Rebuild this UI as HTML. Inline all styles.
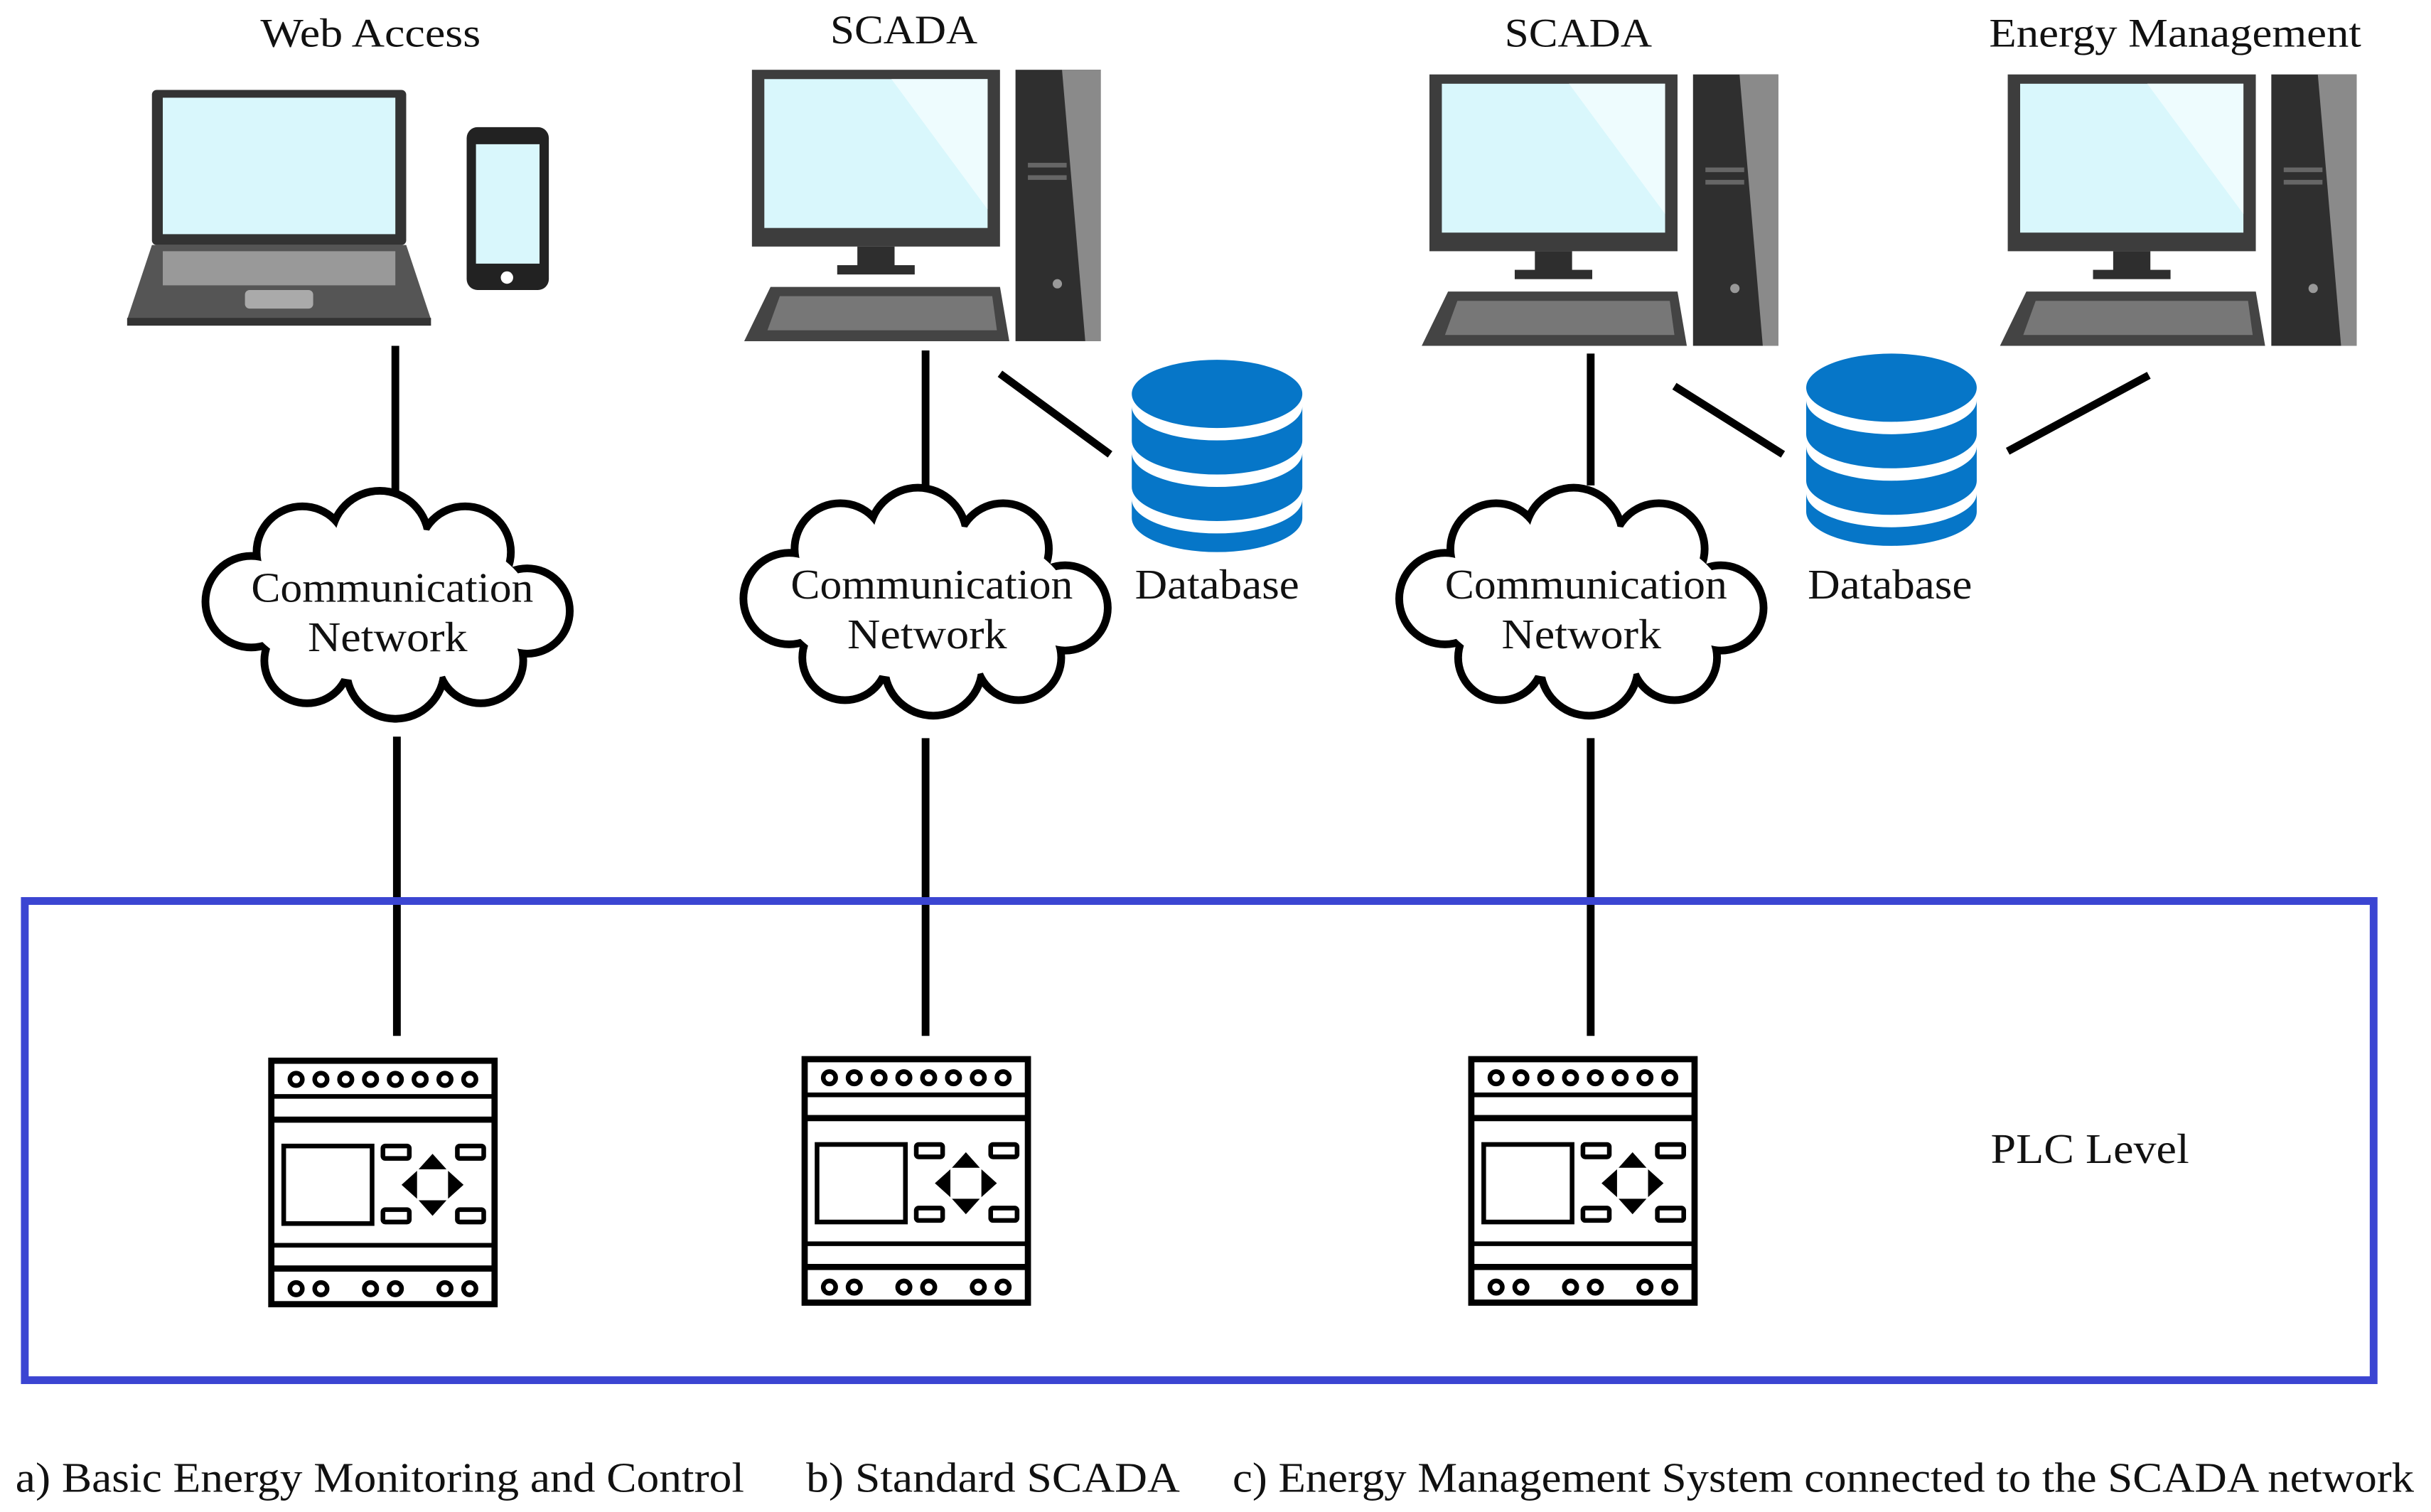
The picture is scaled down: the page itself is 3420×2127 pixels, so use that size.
<!DOCTYPE html>
<html><head><meta charset="utf-8"><style>
html,body{margin:0;padding:0;background:#fff}
svg{display:block}
text{font-family:"Liberation Serif","Times New Roman",serif;fill:#111}
</style></head><body>
<svg width="3420" height="2127" viewBox="0 0 1568 975" preserveAspectRatio="none" xmlns="http://www.w3.org/2000/svg">
<defs>
<g id="plc">
 <rect x="2" y="2" width="144" height="157" fill="#fff" stroke="#000" stroke-width="4"/>
 <line x1="2" y1="25" x2="146" y2="25" stroke="#000" stroke-width="3"/>
 <line x1="2" y1="40" x2="146" y2="40" stroke="#000" stroke-width="4"/>
 <line x1="2" y1="121" x2="146" y2="121" stroke="#000" stroke-width="3"/>
 <line x1="2" y1="136" x2="146" y2="136" stroke="#000" stroke-width="4"/>
 <g fill="#fff" stroke="#000" stroke-width="3">
  <circle cx="18" cy="14" r="4"/><circle cx="34" cy="14" r="4"/><circle cx="50" cy="14" r="4"/><circle cx="66" cy="14" r="4"/>
  <circle cx="82" cy="14" r="4"/><circle cx="98" cy="14" r="4"/><circle cx="114" cy="14" r="4"/><circle cx="130" cy="14" r="4"/>
  <circle cx="18" cy="149" r="4"/><circle cx="34" cy="149" r="4"/><circle cx="66" cy="149" r="4"/><circle cx="82" cy="149" r="4"/>
  <circle cx="114" cy="149" r="4"/><circle cx="130" cy="149" r="4"/>
  <rect x="10" y="57" width="57" height="50"/>
  <rect x="74" y="57" width="17" height="8" rx="1.5"/><rect x="122" y="57" width="17" height="8" rx="1.5"/>
  <rect x="74" y="98" width="17" height="8" rx="1.5"/><rect x="122" y="98" width="17" height="8" rx="1.5"/>
 </g>
 <g fill="#000">
  <polygon points="106,62 115,72 97,72"/><polygon points="106,102 115,92 97,92"/>
  <polygon points="86,82 96,73 96,91"/><polygon points="126,82 116,73 116,91"/>
 </g>
</g>
<g id="cloud">
 <g fill="#000">
  <circle cx="-88" cy="-2" r="32"/><circle cx="-55" cy="-34" r="32"/><circle cx="-5" cy="-42" r="34"/><circle cx="50" cy="-34" r="32"/>
  <circle cx="90" cy="4" r="30"/><circle cx="60" cy="36" r="30"/><circle cx="5" cy="42" r="34"/><circle cx="-52" cy="36" r="30"/>
  <ellipse cx="0" cy="0" rx="90" ry="50"/>
 </g>
 <g fill="#fff">
  <circle cx="-88" cy="-2" r="27"/><circle cx="-55" cy="-34" r="27"/><circle cx="-5" cy="-42" r="29"/><circle cx="50" cy="-34" r="27"/>
  <circle cx="90" cy="4" r="25"/><circle cx="60" cy="36" r="25"/><circle cx="5" cy="42" r="29"/><circle cx="-52" cy="36" r="25"/>
  <ellipse cx="0" cy="0" rx="92" ry="50"/>
 </g>
</g>
<g id="pc">
 <rect x="0" y="0" width="160" height="114" fill="#3d3d3d"/>
 <rect x="8" y="6" width="144" height="96" fill="#d9f7fc"/>
 <polygon points="90,6 152,6 152,90" fill="#eefcfe"/>
 <rect x="68" y="114" width="24" height="14" fill="#2e2e2e"/>
 <rect x="55" y="126" width="50" height="6" fill="#2e2e2e"/>
 <polygon points="12,140 160,140 166,175 -5,175" fill="#444"/>
 <polygon points="18,146 155,146 158,168 10,168" fill="#777"/>
 <rect x="170" y="0" width="55" height="175" fill="#2f2f2f"/>
 <polygon points="200,0 225,0 225,175 215,175" fill="#8a8a8a"/>
 <rect x="178" y="60" width="25" height="3" fill="#666"/><rect x="178" y="68" width="25" height="3" fill="#666"/>
 <circle cx="197" cy="138" r="3" fill="#999"/>
</g>
<g id="db">
 <g fill="#0676c8">
  <ellipse cx="0" cy="22" rx="55" ry="22"/>
  <path d="M-55,30 A55,22 0 0 0 55,30 L55,52 A55,22 0 0 1 -55,52 Z"/>
  <path d="M-55,60 A55,22 0 0 0 55,60 L55,82 A55,22 0 0 1 -55,82 Z"/>
  <path d="M-55,90 A55,22 0 0 0 55,90 L55,102 A55,22 0 0 1 -55,102 Z"/>
 </g>
</g>
</defs>

<g font-size="26" text-anchor="middle">
 <text x="239" y="30" textLength="142" lengthAdjust="spacingAndGlyphs">Web Access</text>
 <text x="583" y="28" textLength="95" lengthAdjust="spacingAndGlyphs">SCADA</text>
 <text x="1018" y="30" textLength="95" lengthAdjust="spacingAndGlyphs">SCADA</text>
 <text x="1403" y="30" textLength="240" lengthAdjust="spacingAndGlyphs">Energy Management</text>
</g>

<!-- laptop -->
<rect x="98" y="58" width="164" height="100" rx="3" fill="#333"/>
<rect x="105" y="63" width="150" height="88" fill="#d9f7fc"/>
<polygon points="98,158 262,158 278,206 82,206" fill="#555"/>
<rect x="105" y="162" width="150" height="22" fill="#999"/>
<rect x="158" y="187" width="44" height="12" rx="3" fill="#aaa"/>
<rect x="82" y="205" width="196" height="5" fill="#333"/>
<!-- phone -->
<rect x="301" y="82" width="53" height="105" rx="7" fill="#222"/>
<rect x="307" y="93" width="41" height="77" fill="#d9f7fc"/>
<circle cx="327" cy="179" r="4" fill="#fff"/>

<use href="#pc" x="485" y="45"/>
<use href="#pc" x="922" y="48"/>
<use href="#pc" x="1295" y="48"/>

<use href="#db" x="785" y="232"/>
<use href="#db" x="1220" y="228"/>

<g stroke="#000" stroke-width="5">
 <line x1="255" y1="223" x2="255" y2="323"/>
 <line x1="256" y1="475" x2="256" y2="668"/>
 <line x1="597" y1="226" x2="597" y2="326"/>
 <line x1="597" y1="476" x2="597" y2="668"/>
 <line x1="1026" y1="228" x2="1026" y2="313"/>
 <line x1="1026" y1="476" x2="1026" y2="668"/>
 <line x1="645" y1="241" x2="716" y2="293"/>
 <line x1="1080" y1="249" x2="1150" y2="293"/>
 <line x1="1295" y1="291" x2="1386" y2="242"/>
</g>

<use href="#cloud" x="250" y="390"/>
<use href="#cloud" x="597" y="388"/>
<use href="#cloud" x="1020" y="388"/>

<g font-size="27" text-anchor="middle">
 <text x="253" y="388" textLength="182" lengthAdjust="spacingAndGlyphs">Communication</text><text x="250" y="420" textLength="103" lengthAdjust="spacingAndGlyphs">Network</text>
 <text x="601" y="386" textLength="182" lengthAdjust="spacingAndGlyphs">Communication</text><text x="598" y="418" textLength="103" lengthAdjust="spacingAndGlyphs">Network</text>
 <text x="1023" y="386" textLength="182" lengthAdjust="spacingAndGlyphs">Communication</text><text x="1020" y="418" textLength="103" lengthAdjust="spacingAndGlyphs">Network</text>
 <text x="785" y="386" textLength="106" lengthAdjust="spacingAndGlyphs">Database</text>
 <text x="1219" y="386" textLength="106" lengthAdjust="spacingAndGlyphs">Database</text>
</g>

<rect x="16" y="581" width="1515" height="309" fill="none" stroke="#3b45d2" stroke-width="5"/>

<use href="#plc" x="173" y="682"/>
<use href="#plc" x="517" y="681"/>
<use href="#plc" x="947" y="681"/>

<text x="1348" y="750" font-size="27" text-anchor="middle" textLength="128" lengthAdjust="spacingAndGlyphs">PLC Level</text>

<g font-size="27">
 <text x="10" y="962" textLength="470" lengthAdjust="spacingAndGlyphs">a) Basic Energy Monitoring and Control</text>
 <text x="520" y="962" textLength="241" lengthAdjust="spacingAndGlyphs">b) Standard SCADA</text>
 <text x="795" y="962" textLength="762" lengthAdjust="spacingAndGlyphs">c) Energy Management System connected to the SCADA network</text>
</g>
</svg>
</body></html>
